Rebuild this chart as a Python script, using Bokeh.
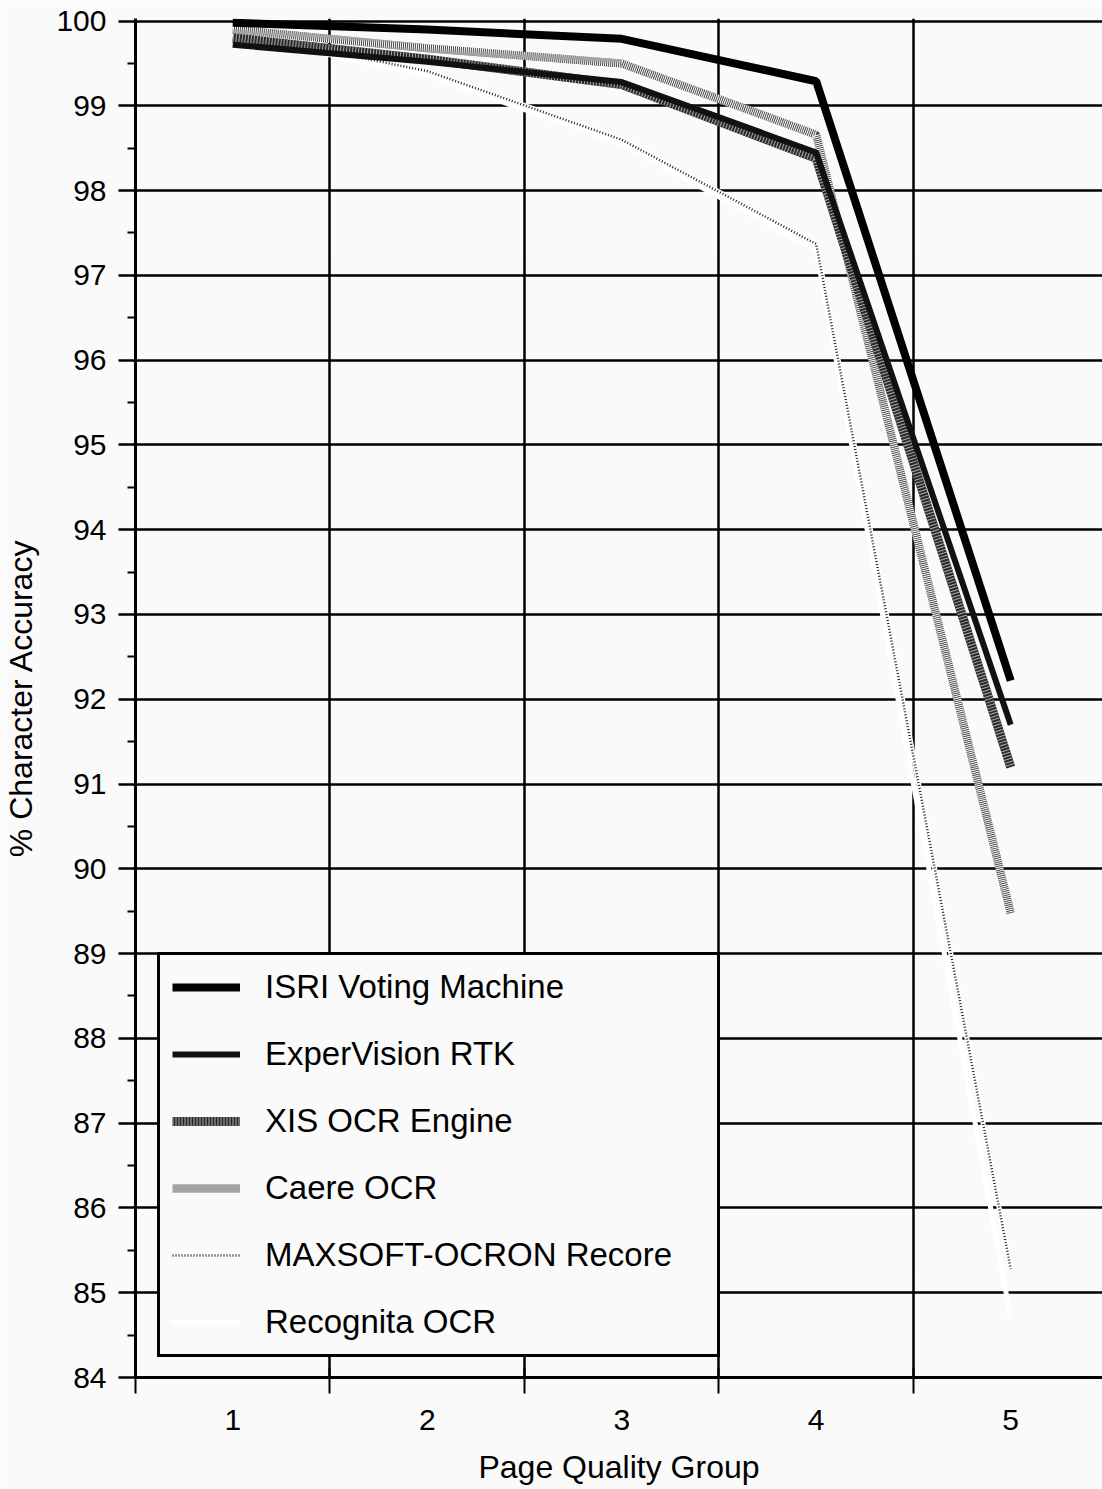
from bokeh.plotting import figure
from bokeh.models import FixedTicker, Range1d, Legend, LegendItem
from bokeh.embed import file_html
from bokeh.resources import INLINE

# ---- data ----
groups = [1, 2, 3, 4, 5]
y_ticks = list(range(84, 101))
isri = [99.98, 99.90, 99.79, 99.29, 92.22]
expervision = [99.72, 99.52, 99.28, 98.45, 91.70]
xis = [99.80, 99.55, 99.25, 98.38, 91.20]
caere = [99.90, 99.68, 99.50, 98.66, 89.48]
maxsoft = [99.87, 99.41, 98.60, 97.37, 85.28]
recognita = [99.84, 99.36, 98.55, 97.30, 84.70]
series_names = ["ISRI Voting Machine", "ExperVision RTK", "XIS OCR Engine",
                "Caere OCR", "MAXSOFT-OCRON Recore", "Recognita OCR"]

FONT = "Liberation Sans"
BG = "#fafafa"

edges = [g - 0.5 for g in groups] + [groups[-1] + 0.5]

p = figure(width=1102, height=1489, output_backend="svg", toolbar_location=None,
           x_range=Range1d(0.5, 5.472), y_range=Range1d(84, 100.03),
           min_border_left=131, min_border_right=0, min_border_top=18,
           min_border_bottom=112)
p.background_fill_color = BG
p.border_fill_color = BG
p.outline_line_color = None

# grids
p.xgrid.ticker = FixedTicker(ticks=edges[1:-1])
p.ygrid.ticker = FixedTicker(ticks=y_ticks)
for g in (p.xgrid, p.ygrid):
    g.grid_line_color = "black"
    g.grid_line_width = 2.5
    g.grid_line_alpha = 1

# x axis
xa = p.xaxis[0]
xa.ticker = FixedTicker(ticks=groups, minor_ticks=edges)
xa.major_tick_out = 0
xa.major_tick_in = 0
xa.minor_tick_out = 16
xa.minor_tick_in = 10
xa.minor_tick_line_color = "black"
xa.minor_tick_line_width = 2
xa.axis_line_width = 3
xa.axis_line_color = "black"
xa.major_label_standoff = 16
xa.major_label_text_font = FONT
xa.major_label_text_font_size = "30px"
xa.major_label_text_color = "black"
xa.axis_label = "Page Quality Group"
xa.axis_label_text_font = FONT
xa.axis_label_text_font_size = "32px"
xa.axis_label_text_font_style = "normal"
xa.axis_label_text_color = "black"
xa.axis_label_standoff = 16

# y axis
ya = p.yaxis[0]
ya.ticker = FixedTicker(ticks=y_ticks, minor_ticks=[v + 0.5 for v in y_ticks[:-1]])
ya.major_tick_out = 17
ya.major_tick_in = 0
ya.major_tick_line_width = 2.5
ya.major_tick_line_color = "black"
ya.minor_tick_out = 8
ya.minor_tick_in = 0
ya.minor_tick_line_width = 2
ya.minor_tick_line_color = "black"
ya.axis_line_width = 3
ya.axis_line_color = "black"
ya.major_label_standoff = 12
ya.major_label_text_font = FONT
ya.major_label_text_font_size = "30px"
ya.major_label_text_color = "black"
ya.axis_label = "% Character Accuracy"
ya.axis_label_text_font = FONT
ya.axis_label_text_font_size = "32px"
ya.axis_label_text_font_style = "normal"
ya.axis_label_text_color = "black"
ya.axis_label_standoff = 14

# ---- series ----
r_rec = p.line(groups, recognita, line_color="white", line_width=5)
r_max_u = p.line(groups, maxsoft, line_color="white", line_width=5)
r_max = p.line(groups, maxsoft, line_color="#222222", line_width=2.5, line_dash="1 2")
r_cae = p.line(groups, caere, line_color="#4a4a4a", line_width=8)
r_cae2 = p.line(groups, caere, line_color="white", line_width=8, line_dash="1 1")
r_xis = p.line(groups, xis, line_color="#2a2a2a", line_width=9)
r_xis2 = p.line(groups, xis, line_color="#aaaaaa", line_width=9, line_dash="1 2")
r_exp = p.line(groups, expervision, line_color="#111111", line_width=6)
r_isri = p.line(groups, isri, line_color="black", line_width=8)

items = [
    LegendItem(label=series_names[0], renderers=[r_isri]),
    LegendItem(label=series_names[1], renderers=[r_exp]),
    LegendItem(label=series_names[2], renderers=[r_xis, r_xis2]),
    LegendItem(label=series_names[3], renderers=[r_cae, r_cae2]),
    LegendItem(label=series_names[4], renderers=[r_max_u, r_max]),
    LegendItem(label=series_names[5], renderers=[r_rec]),
]
legend = Legend(items=items, location=(22, 20))
legend.border_line_color = "black"
legend.border_line_width = 3
legend.border_line_alpha = 1
legend.background_fill_color = BG
legend.background_fill_alpha = 1
legend.label_text_font = FONT
legend.label_text_font_size = "33px"
legend.label_text_color = "black"
legend.glyph_width = 68
legend.glyph_height = 40
legend.label_height = 40
legend.label_width = 440
legend.spacing = 27
legend.padding = 12
legend.label_standoff = 25
legend.margin = 0
p.add_layout(legend)

open("out.html", "w").write(file_html(p, INLINE))
